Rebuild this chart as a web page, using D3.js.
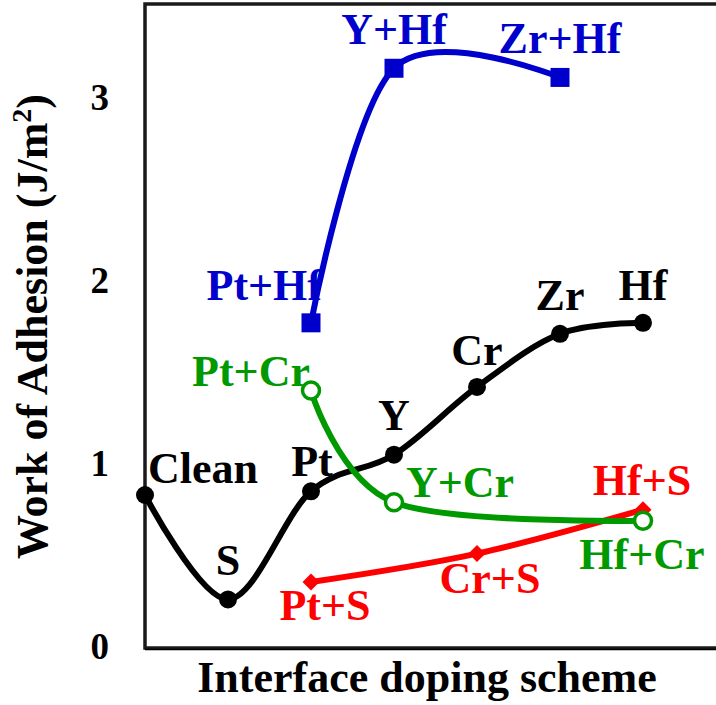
<!DOCTYPE html>
<html>
<head>
<meta charset="utf-8">
<script src="https://cdn.jsdelivr.net/npm/d3@7"></script>
<style>
  body { margin: 0; background: #fff; }
  text { font-family: "Liberation Serif", "Times New Roman", serif; font-weight: bold; }
</style>
</head>
<body>
<svg width="716" height="705"></svg>
<script>
// data (x = slot index along the doping axis)
var yTicks = [0, 1, 2, 3];

var blackNames = ["Clean", "S", "Pt", "Y", "Cr", "Zr", "Hf"];
var blackX = [0, 1, 2, 3, 4, 5, 6];
var blackY = [0.83, 0.26, 0.85, 1.05, 1.42, 1.71, 1.77];

var blueNames = ["Pt+Hf", "Y+Hf", "Zr+Hf"];
var blueX = [2, 3, 5];
var blueY = [1.77, 3.16, 3.11];

var greenNames = ["Pt+Cr", "Y+Cr", "Hf+Cr"];
var greenX = [2, 3, 6];
var greenY = [1.40, 0.79, 0.69];

var redNames = ["Pt+S", "Cr+S", "Hf+S"];
var redX = [2, 4, 6];
var redY = [0.355, 0.51, 0.75];

// label placement relative to the marker: [anchor, dx, dy]
var blackLab = [["start", 3, -12], ["middle", 0, -24], ["middle", 1, -15], ["middle", 0, -25],
                ["middle", 0, -22], ["middle", 0, -24], ["middle", 0, -23]];
var blueLab = [["end", 11, -23], ["middle", 0, -24], ["middle", 0, -24]];
var greenLab = [["end", -1, -5], ["start", 12, -5], ["middle", -1, 48]];
var redLab = [["middle", 14, 38], ["middle", 13, 39], ["middle", -1, -15]];

var svg = d3.select("svg");

var plotLeft = 145, plotTop = 6, plotBottom = 647, plotRight = 726;

var x = d3.scaleLinear().domain([0, 7]).range([plotLeft, plotRight]);
var y = d3.scaleLinear().domain([0, 3.5]).range([plotBottom, plotTop]);

function zip(names, xs, ys, labs) {
  return names.map(function(n, i) { return {name: n, x: xs[i], y: ys[i], lab: labs[i]}; });
}

var series = [
  {key: "black", color: "#000000", marker: "dot", data: zip(blackNames, blackX, blackY, blackLab)},
  {key: "red", color: "#ff0000", marker: "diamond", data: zip(redNames, redX, redY, redLab)},
  {key: "green", color: "#009900", marker: "ring", data: zip(greenNames, greenX, greenY, greenLab)},
  {key: "blue", color: "#0000cc", marker: "square", data: zip(blueNames, blueX, blueY, blueLab)}
];

// frame
svg.append("rect")
    .attr("x", plotLeft)
    .attr("y", 4)
    .attr("width", 716)
    .attr("height", plotBottom + 1 - 4)
    .attr("fill", "none")
    .attr("stroke", "#1a1a1a")
    .attr("stroke-width", 3.5);
svg.append("line")
    .attr("x1", plotLeft).attr("x2", 716)
    .attr("y1", plotBottom + 2.5).attr("y2", plotBottom + 2.5)
    .attr("stroke", "#000").attr("stroke-width", 1.5);

// y axis labels only
var yAxis = svg.append("g")
    .attr("transform", "translate(" + plotLeft + ",0)")
    .call(d3.axisLeft(y).tickValues(yTicks).tickSize(0).tickPadding(36).tickFormat(d3.format("d")));
yAxis.select(".domain").remove();
yAxis.selectAll("text")
    .attr("font-size", 37)
    .attr("font-family", "Liberation Serif, Times New Roman, serif")
    .attr("font-weight", "bold")
    .attr("fill", "#000");

var line = d3.line()
    .x(function(d) { return x(d.x); })
    .y(function(d) { return y(d.y); })
    .curve(d3.curveCardinal.tension(0));

series.forEach(function(s) {
  var g = svg.append("g").attr("class", s.key);

  g.append("path")
      .datum(s.data)
      .attr("d", line)
      .attr("fill", "none")
      .attr("stroke", s.color)
      .attr("stroke-width", 6);

  var pts = g.selectAll(".pt")
      .data(s.data)
      .enter();

  if (s.marker == "dot") {
    pts.append("circle")
        .attr("cx", function(d) { return x(d.x); })
        .attr("cy", function(d) { return y(d.y); })
        .attr("r", 9)
        .attr("fill", s.color);
  } else if (s.marker == "ring") {
    pts.append("circle")
        .attr("cx", function(d) { return x(d.x); })
        .attr("cy", function(d) { return y(d.y); })
        .attr("r", 8.5)
        .attr("fill", "#fff")
        .attr("stroke", s.color)
        .attr("stroke-width", 3.5);
  } else if (s.marker == "square") {
    pts.append("path")
        .attr("transform", function(d) { return "translate(" + x(d.x) + "," + y(d.y) + ")"; })
        .attr("d", d3.symbol(d3.symbolSquare).size(19 * 19))
        .attr("fill", s.color);
  } else {
    pts.append("path")
        .attr("transform", function(d) { return "translate(" + x(d.x) + "," + y(d.y) + ") rotate(45)"; })
        .attr("d", d3.symbol(d3.symbolSquare).size(12 * 12))
        .attr("fill", s.color);
  }
});

// point labels on top
series.forEach(function(s) {
  svg.append("g").selectAll("text")
      .data(s.data)
      .enter().append("text")
      .attr("x", function(d) { return x(d.x) + d.lab[1]; })
      .attr("y", function(d) { return y(d.y) + d.lab[2]; })
      .attr("text-anchor", function(d) { return d.lab[0]; })
      .attr("font-size", 44)
      .attr("fill", s.color)
      .text(function(d) { return d.name; });
});

// axis titles
svg.append("text")
    .attr("x", 427)
    .attr("y", 692)
    .attr("text-anchor", "middle")
    .attr("font-size", 44)
    .text("Interface doping scheme");

var yt = svg.append("text")
    .attr("transform", "translate(47," + ((plotTop + plotBottom) / 2) + ") rotate(-90)")
    .attr("text-anchor", "middle")
    .attr("font-size", 44);
yt.append("tspan").text("Work of Adhesion (J/m");
yt.append("tspan").attr("dy", -16).attr("font-size", 28).text("2");
yt.append("tspan").attr("dy", 16).text(")");
</script>
</body>
</html>
